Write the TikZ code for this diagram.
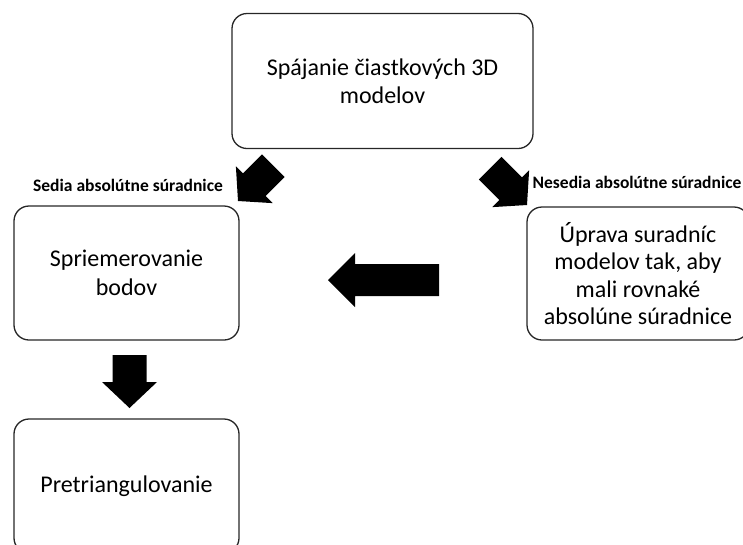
\documentclass[tikz,border=0pt]{standalone}
\usepackage{fontspec}
\setmainfont{Carlito}
\newcommand\myblockarrow[6]{% tip coordinate, angle, length, head length, head width, shaft width
  \fill[fill=black, shift={(#1)}, rotate=#2]
    (0,0) -- (#4,#5/2) -- (#4,#6/2) -- (#3,#6/2) -- (#3,-#6/2) -- (#4,-#6/2) -- (#4,-#5/2) -- cycle;}
\begin{document}
\begin{tikzpicture}[x=1pt,y=-1pt,
  box/.style={draw=black!85, line width=1.3pt, rounded corners=15pt, align=center,
    font=\fontsize{24}{28.5}\selectfont, inner sep=0pt},
  lbl/.style={font=\fontsize{17.5}{20}\selectfont\bfseries, inner sep=0pt}]
\useasboundingbox (0,0) rectangle (743,544);
\clip (0,0) rectangle (743,544);
\node[box, minimum width=301pt, minimum height=135pt] (join) at (382.5,81)
  {Spájanie čiastkových 3D\\modelov};
\node[box, minimum width=225pt, minimum height=134pt] (avg) at (126.5,273)
  {Spriemerovanie\\bodov};
\node[box, minimum width=225pt, minimum height=134pt] (tri) at (126.5,486)
  {Pretriangulovanie};
\node[box, minimum width=222pt, minimum height=133pt, font=\fontsize{24}{27.5}\selectfont] (adj) at (638,273.5)
  {Úprava suradníc\\modelov tak, aby\\mali rovnaké\\absolúne súradnice};
\node[lbl] (lyes) at (128,185) {Sedia absolútne súradnice};
\node[lbl] (lno) at (637,182) {Nesedia absolútne súradnice};
\coordinate (tipA) at (238,201);
\coordinate (tipB) at (527,205);
\coordinate (tipC) at (328,280);
\coordinate (tipD) at (129.5,408);
\myblockarrow{tipA}{45}{50}{23}{52}{32}
\myblockarrow{tipB}{135}{52}{23}{52}{32}
\myblockarrow{tipC}{0}{111}{27}{54}{32}
\myblockarrow{tipD}{90}{53}{26}{55}{34}
\end{tikzpicture}
\end{document}
